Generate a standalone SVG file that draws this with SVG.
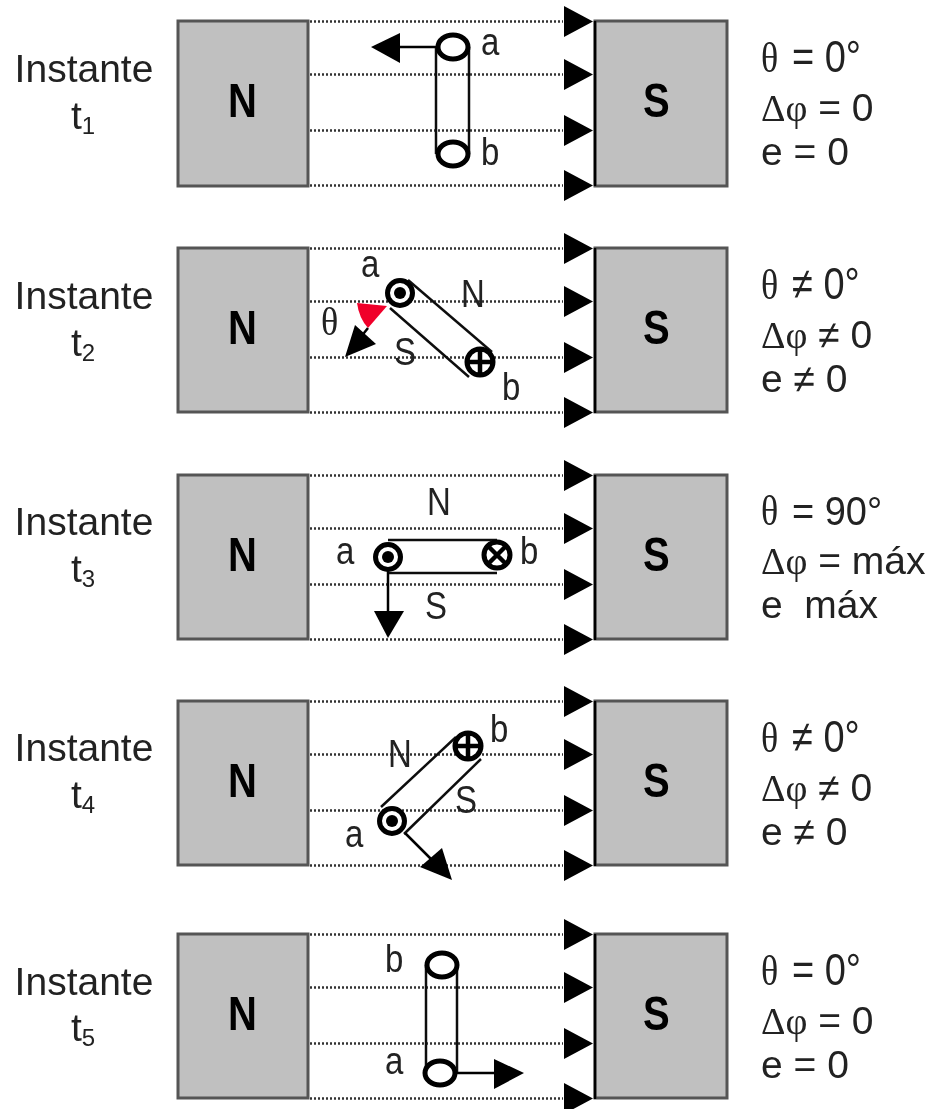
<svg xmlns="http://www.w3.org/2000/svg" width="931" height="1109" viewBox="0 0 931 1109">
<style>
.mag{fill:#c0c0c0;stroke:#555;stroke-width:3}
.dot{fill:none;stroke:#333;stroke-width:2.4;stroke-dasharray:2 2}
.edge{stroke:#000;stroke-width:2.5;fill:none}
.coil{stroke:#111;stroke-width:2.5;fill:none}
.rim{fill:#fff;stroke:#000;stroke-width:5}
.cond{fill:#fff;stroke:#000;stroke-width:5}
.cross{stroke:#000;stroke-width:4.5;fill:none}
.head{fill:#000}
.shaft{stroke:#000;stroke-width:2.5;fill:none}
text{font-family:"Liberation Sans",Arial,sans-serif;fill:#222}
.big{font-size:39px}
.sub{font-size:24px}
.pole{font-size:40px;font-weight:bold;fill:#000}
.lab{font-size:33px}
.eq{font-size:38px}
.e2{font-size:39px}
.gr{font-family:"Liberation Serif",serif;font-size:36px}
.gd{font-family:"Liberation Serif",serif;font-size:38px}
</style>
<defs>
<filter id="soft" x="0" y="0" width="100%" height="100%"><feGaussianBlur stdDeviation="0.55"/></filter>
<g id="field">
<path class="dot" d="M310 0.5H563M310 53.5H563M310 109.5H563M310 164.5H563"/>
<path class="edge" d="M595 0V165"/>
<path class="head" d="M564 -15L593 0.5L564 16ZM564 38L593 53.5L564 69ZM564 94L593 109.5L564 125ZM564 149L593 164.5L564 180Z"/>
</g>
</defs>
<g filter="url(#soft)">
<rect width="931" height="1109" fill="#fff"/>
<g id="magnets">
<g id="n1"><rect class="mag" x="178" y="21" width="130" height="165"/><text class="pole" transform="translate(228,117) scale(1,1.2)">N</text></g>
<g id="s1"><rect class="mag" x="595" y="21" width="132" height="165"/><text class="pole" transform="translate(643,117) scale(1,1.2)">S</text></g>
<g id="n2"><rect class="mag" x="178" y="248" width="130" height="164"/><text class="pole" transform="translate(228,344) scale(1,1.2)">N</text></g>
<g id="s2"><rect class="mag" x="595" y="248" width="132" height="164"/><text class="pole" transform="translate(643,344) scale(1,1.2)">S</text></g>
<g id="n3"><rect class="mag" x="178" y="475" width="130" height="164"/><text class="pole" transform="translate(228,571) scale(1,1.2)">N</text></g>
<g id="s3"><rect class="mag" x="595" y="475" width="132" height="164"/><text class="pole" transform="translate(643,571) scale(1,1.2)">S</text></g>
<g id="n4"><rect class="mag" x="178" y="701" width="130" height="164"/><text class="pole" transform="translate(228,797) scale(1,1.2)">N</text></g>
<g id="s4"><rect class="mag" x="595" y="701" width="132" height="164"/><text class="pole" transform="translate(643,797) scale(1,1.2)">S</text></g>
<g id="n5"><rect class="mag" x="178" y="934" width="130" height="164"/><text class="pole" transform="translate(228,1030) scale(1,1.2)">N</text></g>
<g id="s5"><rect class="mag" x="595" y="934" width="132" height="164"/><text class="pole" transform="translate(643,1030) scale(1,1.2)">S</text></g>
</g>
<g id="connectors">
<use href="#field" y="21"/>
<use href="#field" y="248"/>
<use href="#field" y="475"/>
<use href="#field" y="701"/>
<use href="#field" y="934"/>
</g>
<g id="coil1">
<path class="coil" d="M436 47V154M469 47V154"/>
<ellipse class="rim" cx="453" cy="47" rx="15" ry="12"/>
<ellipse class="rim" cx="453" cy="154" rx="15" ry="12"/>
<path class="shaft" d="M436 47H398"/><path class="head" d="M371 47L400 33V63Z"/>
<text class="lab" transform="translate(481,55) scale(1,1.2)">a</text><text class="lab" transform="translate(481,165) scale(1,1.2)">b</text>
</g>
<g id="coil2">
<path d="M357 303L387 306L368 328Q359 318 357 303Z" fill="#f0002a"/>
<path class="coil" d="M408 280L492 352M390 308L469 377"/>
<path class="shaft" d="M368 328L360 338"/>
<path class="head" d="M345 357L355 325L376 344Z"/>
<circle class="rim" cx="400" cy="293" r="12.5"/><circle class="head" cx="400" cy="293" r="6"/>
<circle class="cond" cx="480" cy="362" r="13"/><path class="cross" d="M467 362H493M480 349V375"/>
<text class="lab" transform="translate(361,277) scale(1,1.2)">a</text><text class="lab" transform="translate(461,307) scale(1,1.2)">N</text><text class="lab" transform="translate(394,365) scale(1,1.2)">S</text>
<text class="gr" transform="translate(321,335) scale(1,1.1)">θ</text><text class="lab" transform="translate(502,400) scale(1,1.2)">b</text>
</g>
<g id="coil3">
<path class="coil" d="M388 540H497M388 573H497"/>
<path class="shaft" d="M388 570V612"/><path class="head" d="M374 611H404L388 638Z"/>
<circle class="rim" cx="388" cy="557" r="12.5"/><circle class="head" cx="388" cy="557" r="6"/>
<circle class="cond" cx="497" cy="555" r="13"/><path class="cross" d="M488 546L506 564M506 546L488 564"/>
<text class="lab" transform="translate(427,515) scale(1,1.2)">N</text><text class="lab" transform="translate(336,564) scale(1,1.2)">a</text><text class="lab" transform="translate(520,564) scale(1,1.2)">b</text><text class="lab" transform="translate(425,619) scale(1,1.2)">S</text>
</g>
<g id="coil4">
<path class="coil" d="M381 807L456 737M404 834L481 759"/>
<path class="shaft" d="M405 833L432 860"/><path class="head" d="M452 880L420 867L442 848Z"/>
<circle class="rim" cx="392" cy="821" r="12.5"/><circle class="head" cx="392" cy="821" r="6"/>
<circle class="cond" cx="468" cy="746" r="13"/><path class="cross" d="M455 746H481M468 733V759"/>
<text class="lab" transform="translate(388,767) scale(1,1.2)">N</text><text class="lab" transform="translate(490,742) scale(1,1.2)">b</text><text class="lab" transform="translate(455,813) scale(1,1.2)">S</text><text class="lab" transform="translate(345,847) scale(1,1.2)">a</text>
</g>
<g id="coil5">
<path class="coil" d="M426 965V1073M457 965V1073"/>
<ellipse class="rim" cx="442" cy="965" rx="15" ry="12"/>
<ellipse class="rim" cx="440" cy="1073" rx="15" ry="12"/>
<path class="shaft" d="M457 1073H496"/><path class="head" d="M494 1059V1089L524 1073Z"/>
<text class="lab" transform="translate(385,972) scale(1,1.2)">b</text><text class="lab" transform="translate(385,1074) scale(1,1.2)">a</text>
</g>
<g id="labels">
<text class="big" x="84" y="82" text-anchor="middle">Instante</text><text class="big" x="71" y="129">t<tspan class="sub" dy="5">1</tspan></text>
<text class="big" x="84" y="309" text-anchor="middle">Instante</text><text class="big" x="71" y="356">t<tspan class="sub" dy="5">2</tspan></text>
<text class="big" x="84" y="535" text-anchor="middle">Instante</text><text class="big" x="71" y="582">t<tspan class="sub" dy="5">3</tspan></text>
<text class="big" x="84" y="761" text-anchor="middle">Instante</text><text class="big" x="71" y="808">t<tspan class="sub" dy="5">4</tspan></text>
<text class="big" x="84" y="995" text-anchor="middle">Instante</text><text class="big" x="71" y="1041">t<tspan class="sub" dy="5">5</tspan></text>
</g>
<g id="eqs">
<text class="gr" transform="translate(761,72) scale(1,1.18)">θ</text><text class="eq" transform="translate(792,72) scale(1,1.18)">= 0°</text>
<text class="e2" x="761" y="121"><tspan class="gd">Δφ</tspan> = 0</text>
<text class="e2" x="761" y="165">e = 0</text>
<text class="gr" transform="translate(761,299) scale(1,1.18)">θ</text><text class="eq" transform="translate(792,299) scale(1,1.18)">≠ 0°</text>
<text class="e2" x="761" y="348"><tspan class="gd">Δφ</tspan> ≠ 0</text>
<text class="e2" x="761" y="392">e ≠ 0</text>
<text class="gr" transform="translate(761,525) scale(1,1.18)">θ</text><text class="eq" transform="translate(792,525) scale(1,1.08)">= 90°</text>
<text class="e2" x="761" y="574"><tspan class="gd">Δφ</tspan> = máx</text>
<text class="e2" x="761" y="618" xml:space="preserve">e  máx</text>
<text class="gr" transform="translate(761,752) scale(1,1.18)">θ</text><text class="eq" transform="translate(792,752) scale(1,1.18)">≠ 0°</text>
<text class="e2" x="761" y="801"><tspan class="gd">Δφ</tspan> ≠ 0</text>
<text class="e2" x="761" y="845">e ≠ 0</text>
<text class="gr" transform="translate(761,985) scale(1,1.18)">θ</text><text class="eq" transform="translate(792,985) scale(1,1.18)">= 0°</text>
<text class="e2" x="761" y="1034"><tspan class="gd">Δφ</tspan> = 0</text>
<text class="e2" x="761" y="1078">e = 0</text>
</g>
</g>
</svg>
